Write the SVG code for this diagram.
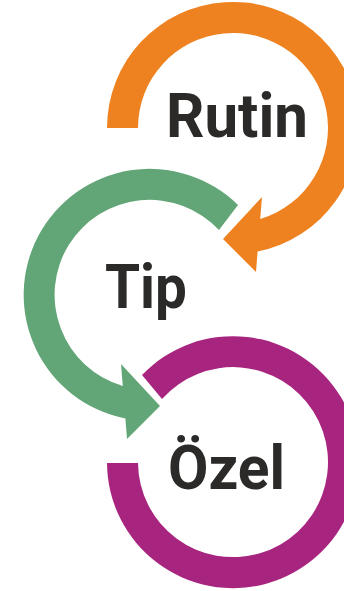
<svg xmlns="http://www.w3.org/2000/svg" width="344" height="591" viewBox="0 0 344 591">
<style>
.lbl{font-family:Roboto,"Liberation Sans",sans-serif;font-weight:bold;font-size:61px;fill:#2b2a29}
.orange{fill:#ef8220}
.green{fill:#62a677}
.purple{fill:#a7257f}
</style>
<rect width="344" height="591" fill="#ffffff"/>
<g id="connectors">
<path id="arrow-rutin" class="orange" d="M107,128 A126,126 0 1 1 257.6,251.5 L256,272 L223,239 L262,197 L260.2,219 A95,95 0 1 0 138,128 Z"/>
<path id="arrow-tip" class="green" d="M238,205 A126,126 0 1 0 125.4,418.5 L127,439 L160,406 L121,364 L122.8,386 A95,95 0 1 1 219,230 Z"/>
<path id="arc-ozel" class="purple" d="M142,375 A126,126 0 1 1 107,463 L138,463 A95,95 0 1 0 162,399 Z"/>
</g>
<g id="node-rutin"><text class="lbl" x="166" y="137" textLength="142" lengthAdjust="spacingAndGlyphs">Rutin</text></g>
<g id="node-tip"><text class="lbl" x="105" y="308" textLength="82" lengthAdjust="spacingAndGlyphs">Tip</text></g>
<g id="node-ozel"><text class="lbl" x="168" y="489" textLength="117" lengthAdjust="spacingAndGlyphs">Özel</text></g>
</svg>
